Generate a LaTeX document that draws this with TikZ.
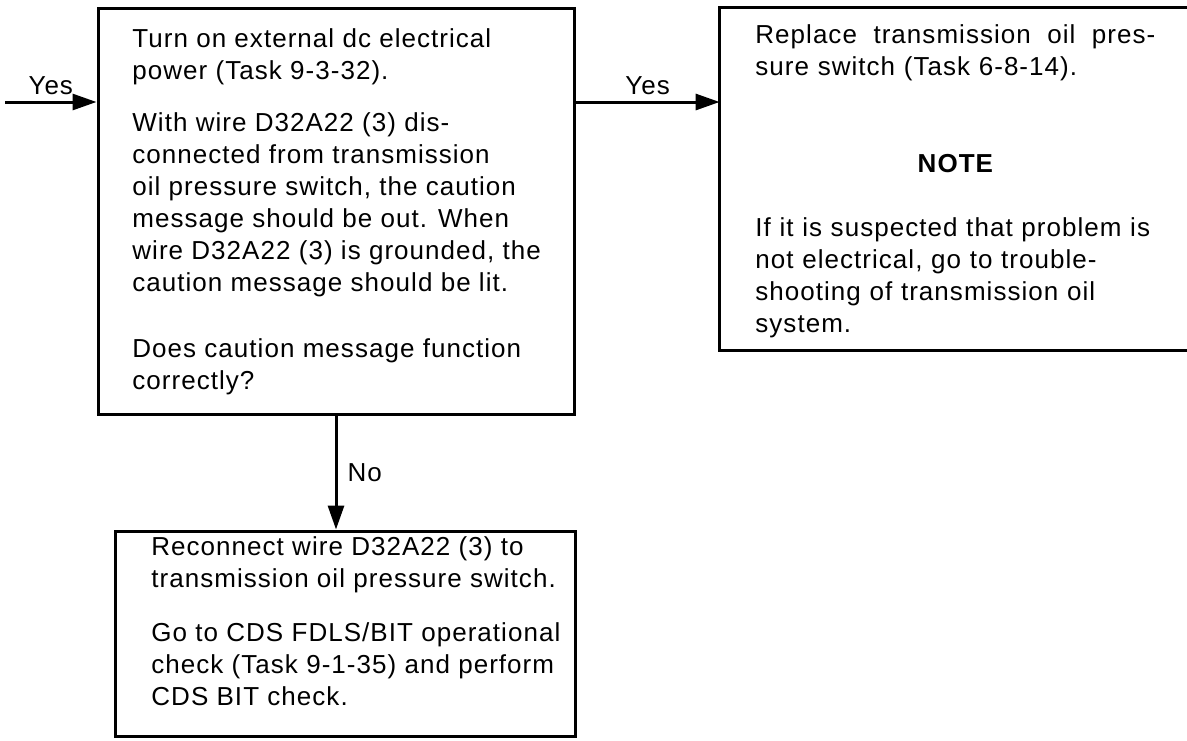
\documentclass[tikz,border=0pt]{standalone}
\usepackage{fontspec}
\setmainfont[LetterSpace=4]{Liberation Sans}
\usepackage{tikz}
\usetikzlibrary{arrows.meta, positioning, fit, calc}

\begin{document}
\begin{tikzpicture}[x=0.5pt,y=-0.5pt,font=\fontsize{13}{16}\selectfont,
  box/.style={draw,line width=1.5pt,inner sep=0pt},
  txt/.style={anchor=north west,inner sep=0pt,align=left},
  arr/.style={line width=1.5pt,-{Triangle[length=12pt,width=8pt]}},
  lbl/.style={inner sep=3pt}]
  \useasboundingbox (0,0) rectangle (1187,740);

  % boxes
  \node[box,fit={(98,8) (574,414)}] (check) {};
  \node[inner sep=0pt,fit={(720,8) (1187,350)}] (replace) {};
  \draw[line width=1.5pt] (replace.north east) -- (replace.north west)
    -- (replace.south west) -- (replace.south east);
  \node[box,fit={(115,531) (575,736)}] (reconnect) {};

  % texts
  \node[txt] (checktext) at (132,28) {Turn on external dc electrical\\
    power (Task 9-3-32).\\[10pt]
    With wire D32A22 (3) dis-\\
    connected from transmission\\
    oil pressure switch, the caution\\
    message should be out. When\\
    wire D32A22 (3) is grounded, the\\
    caution message should be lit.\\[17pt]
    Does caution message function\\
    correctly?};

  \node[txt,text width=200pt] (replacetext) at (755,24) {%
    \hbox to \linewidth{Replace\hfill transmission\hfill oil\hfill pres-}\\
    sure switch (Task 6-8-14).\\[32.5pt]
    \makebox[\linewidth]{\bfseries NOTE}\\[16pt]
    If it is suspected that problem is\\
    not electrical, go to trouble-\\
    shooting of transmission oil\\
    system.};

  \node[txt] (reconnecttext) at (151,536) {Reconnect wire D32A22 (3) to\\
    transmission oil pressure switch.\\[11pt]
    Go to CDS FDLS/BIT operational\\
    check (Task 9-1-35) and perform\\
    CDS BIT check.};

  % connectors
  \coordinate (entry) at (5,102);
  \draw[arr] (entry) -- node[lbl,above] (yesin) {Yes} (entry -| check.west);
  \draw[arr] (check.east |- entry) -- node[lbl,above] (yesout) {Yes} (replace.west |- entry);
  \draw[arr] (check.south) -- node[lbl,right,inner sep=5pt] (no) {No} (check.south |- reconnect.north);
\end{tikzpicture}
\end{document}
